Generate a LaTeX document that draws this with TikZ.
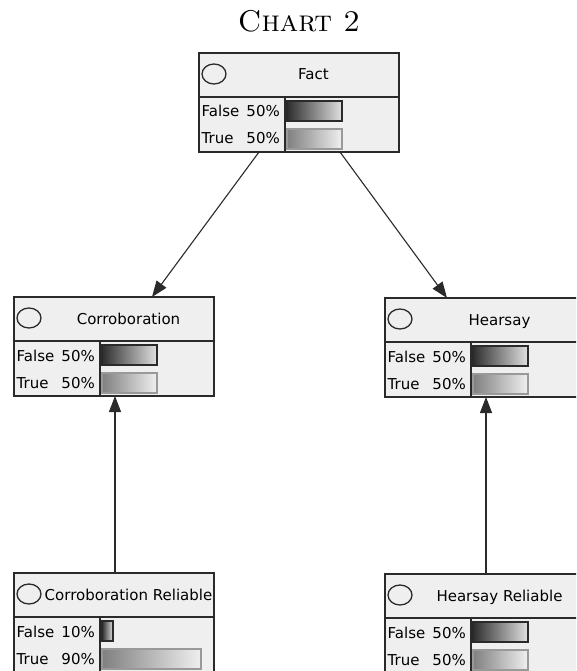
\documentclass[tikz,border=0pt]{standalone}
\usepackage{fontspec}
\newfontfamily\uisans{DejaVu Sans}
\usetikzlibrary{calc,arrows.meta}

\definecolor{frameink}{HTML}{2A2A2A}
\definecolor{panel}{HTML}{EFEFEF}
\definecolor{wire}{HTML}{2A2A2A}

\tikzset{
  nodebox/.style={draw=frameink, line width=1.5pt, fill=panel, rectangle,
    minimum width=200pt, minimum height=99pt, inner sep=0pt, outer sep=0pt},
  rule/.style={draw=frameink, line width=1.3pt},
  ring/.style={draw=frameink, line width=1.3pt},
  titletext/.style={font=\uisans\fontsize{15}{17}\selectfont, inner sep=0pt, anchor=base},
  statetext/.style={font=\uisans\fontsize{15}{17}\selectfont, inner sep=0pt},
  falsebar/.style={draw=frameink, line width=1.2pt, left color=black!82, right color=black!12},
  truebar/.style={draw=black!40, line width=1.2pt, left color=black!50, right color=black!6},
  link/.style={draw=wire, line width=1.1pt, -{Triangle[length=16pt,width=12pt]}},
}

% one belief node: name, left x, top y, title, false %, true %
\newcommand\beliefnode[6]{%
  \node[nodebox, anchor=north west] (#1) at (#2,-#3) {};
  \begin{scope}[shift={(#2,-#3)}]
    \draw[rule] (0,-44) -- (200,-44);
    \draw[rule] (86,-44) -- (86,-99);
    \draw[ring] (15,-21) ellipse [x radius=12, y radius=10];
    \node[titletext] at (114.5,-27) {#4};
    \node[statetext, anchor=base west] at (2.5,-64) {False};
    \node[statetext, anchor=base east] at (81,-64) {#5\%};
    \node[statetext, anchor=base west] at (2.5,-91) {True};
    \node[statetext, anchor=base east] at (81,-91) {#6\%};
    \path[falsebar] (88,-48) rectangle ({88+1.1*#5},-68);
    \path[truebar] (88,-76) rectangle ({88+1.1*#6},-96);
  \end{scope}}

\begin{document}
\begin{tikzpicture}[x=1pt, y=1pt]
  \useasboundingbox (0,0) rectangle (576,-671);
  \clip (0,0) rectangle (576,-671);
  \fill[white] (0,0) rectangle (576,-671);

  \node[font=\fontsize{30}{34}\selectfont, anchor=base, inner sep=0pt] (heading) at (299,-32) {\textsc{Chart 2}};

  \beliefnode{fact}{199}{53}{Fact}{50}{50}
  \beliefnode{corr}{14}{297}{Corroboration}{50}{50}
  \beliefnode{hear}{385}{298}{Hearsay}{50}{50}
  \beliefnode{corrrel}{14}{573}{Corroboration Reliable}{10}{90}
  \beliefnode{hearrel}{385}{574}{Hearsay Reliable}{50}{50}

  \draw[link] ($(fact.south west)+(60,0)$) -- ($(corr.north west)+(138,0)$);
  \draw[link] ($(fact.south west)+(141,0)$) -- ($(hear.north west)+(62,0)$);
  \draw[link] ($(corrrel.north west)+(101,0)$) -- ($(corr.south west)+(101,0)$);
  \draw[link] ($(hearrel.north west)+(101,0)$) -- ($(hear.south west)+(101,0)$);
\end{tikzpicture}
\end{document}
